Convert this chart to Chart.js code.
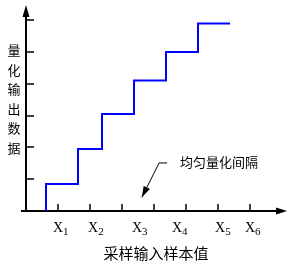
<!DOCTYPE html>
<html>
<head>
<meta charset="utf-8">
<script src="https://cdn.jsdelivr.net/npm/chart.js@4"></script>
<style>
html, body { margin: 0; padding: 0; background: #fff; }
#wrap { width: 291px; height: 267px; position: relative; }
</style>
</head>
<body>
<div id="wrap"><canvas id="grafico"></canvas></div>
<script>
// staircase: riser x positions (last = end of top step) and output levels
const sampleX = [0.625, 1.625, 2.375, 3.375, 4.375, 5.375, 6.375];
const outputLevel = [0, 0.85, 1.95, 3.05, 4.1, 5.0, 5.9];

const xTicks = [1, 2, 3, 4, 5, 6, 7];
const yTicks = [1, 2, 3, 4, 5, 6];
const xLabelSub = ['1', '2', '3', '4', '5', '6'];
const xLabelAt = [0.84, 1.94, 3.31, 4.56, 5.91, 6.84];

const yTitle = ['量', '化', '输', '出', '数', '据'];
const xTitle = '采样输入样本值';
const noteText = '均匀量化间隔';
const notePath = [[4.41, 1.51], [4.16, 1.51], [3.62, 0.43]];

const cjk = '"Noto Sans CJK SC", sans-serif';

function arrowHead(ctx, fromX, fromY, toX, toY, len, half) {
    const a = Math.atan2(toY - fromY, toX - fromX);
    ctx.beginPath();
    ctx.moveTo(toX, toY);
    ctx.lineTo(toX - len * Math.cos(a) + half * Math.sin(a), toY - len * Math.sin(a) - half * Math.cos(a));
    ctx.lineTo(toX - len * Math.cos(a) - half * Math.sin(a), toY - len * Math.sin(a) + half * Math.cos(a));
    ctx.closePath();
    ctx.fill();
}

const ejes = {
    id: 'ejes',
    beforeDatasetsDraw(chart) {
        const { ctx, scales: { x, y } } = chart;
        const x0 = x.getPixelForValue(0);
        const y0 = y.getPixelForValue(0);
        ctx.save();
        ctx.strokeStyle = '#000';
        ctx.fillStyle = '#000';
        ctx.lineWidth = 2;

        ctx.beginPath();
        ctx.moveTo(x0, y0);
        ctx.lineTo(x0, y.top + 8);
        ctx.moveTo(x.left, y0);
        ctx.lineTo(x.right - 8, y0);
        ctx.stroke();
        arrowHead(ctx, x0, y0, x0, y.top, 12, 3.5);
        arrowHead(ctx, x.left, y0, x.right, y0, 11, 3.5);

        // ticks
        ctx.beginPath();
        xTicks.forEach(v => {
            const px = Math.round(x.getPixelForValue(v));
            ctx.moveTo(px, y0);
            ctx.lineTo(px, y0 - 7);
        });
        yTicks.forEach(v => {
            const py = Math.round(y.getPixelForValue(v));
            ctx.moveTo(x0, py);
            ctx.lineTo(x0 + 8, py);
        });
        ctx.lineWidth = 1.5;
        ctx.stroke();

        // X labels with subscripts
        ctx.textBaseline = 'alphabetic';
        ctx.textAlign = 'left';
        xLabelSub.forEach((s, i) => {
            const px = x.getPixelForValue(xLabelAt[i]);
            ctx.font = '14px "Liberation Serif", serif';
            ctx.fillText('X', px, y0 + 21);
            const w = ctx.measureText('X').width;
            ctx.font = '11px "Liberation Serif", serif';
            ctx.fillText(s, px + w, y0 + 24);
        });

        // axis titles
        ctx.font = '13px ' + cjk;
        ctx.textAlign = 'center';
        ctx.textBaseline = 'middle';
        yTitle.forEach((c, i) => {
            ctx.fillText(c, 14, 50 + i * 19.6);
        });
        ctx.font = '15px ' + cjk;
        ctx.fillText(xTitle, (x.left + x.right) / 2 + 2, y0 + 42);

        // note with leader arrow
        ctx.lineWidth = 1;
        ctx.beginPath();
        notePath.forEach((p, i) => {
            const px = x.getPixelForValue(p[0]);
            const py = y.getPixelForValue(p[1]);
            if (i === 0) ctx.moveTo(px, py); else ctx.lineTo(px, py);
        });
        ctx.stroke();
        const a = notePath[notePath.length - 2];
        const b = notePath[notePath.length - 1];
        arrowHead(ctx, x.getPixelForValue(a[0]), y.getPixelForValue(a[1]),
            x.getPixelForValue(b[0]), y.getPixelForValue(b[1]), 11, 3.5);
        ctx.font = '13px ' + cjk;
        ctx.textAlign = 'left';
        ctx.fillText(noteText, x.getPixelForValue(4.81), y.getPixelForValue(1.51) - 1);
        ctx.restore();
    }
};

const ctx = document.getElementById('grafico');

new Chart(ctx, {
    type: 'scatter',
    data: {
        datasets: [{
            data: sampleX.map((v, i) => ({ x: v, y: outputLevel[i] })),
            showLine: true,
            stepped: 'after',
            borderColor: '#0000ff',
            borderWidth: 2,
            pointRadius: 0,
            fill: false
        }]
    },
    options: {
        responsive: true,
        maintainAspectRatio: false,
        animation: false,
        layout: { padding: { left: 21, right: 4, top: 5, bottom: 56 } },
        plugins: { legend: { display: false }, tooltip: { enabled: false } },
        scales: {
            x: { type: 'linear', min: -0.15625, max: 8.15625, display: false },
            y: { type: 'linear', min: 0, max: 6.478, display: false }
        }
    },
    plugins: [ejes]
});
</script>
</body>
</html>
